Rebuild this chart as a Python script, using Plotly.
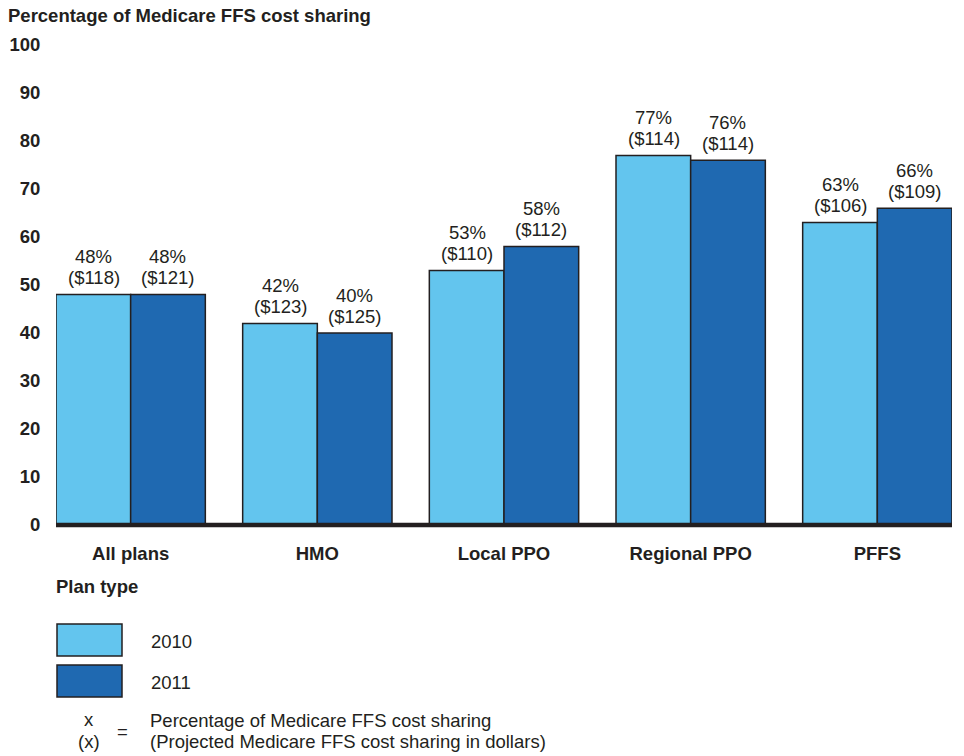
import plotly.graph_objects as go

categories = ["All plans", "HMO", "Local PPO", "Regional PPO", "PFFS"]
pct_2010 = [48, 42, 53, 77, 63]
pct_2011 = [48, 40, 58, 76, 66]
dollars_2010 = [118, 123, 110, 114, 106]
dollars_2011 = [121, 125, 112, 114, 109]
y_ticks = [0, 10, 20, 30, 40, 50, 60, 70, 80, 90, 100]

C2010 = "#63c5ee"
C2011 = "#1f69b1"
INK = "#231f20"
FONT = "Liberation Sans, Arial, sans-serif"
FS = 18.5

W, H = 964, 756
L, R, T, B = 56, 12, 45, 231
PW, PH = W - L - R, H - T - B

def px(x):
    return (x - L) / PW

def py(y):
    return (H - B - y) / PH

fig = go.Figure()
for name, vals, col in [("2010", pct_2010, C2010), ("2011", pct_2011, C2011)]:
    fig.add_trace(go.Bar(
        name=name, x=categories, y=vals,
        marker=dict(color=col, line=dict(color=INK, width=1.5)),
        showlegend=False, hoverinfo="x+y",
    ))

fig.update_layout(
    width=W, height=H, margin=dict(l=L, r=R, t=T, b=B, autoexpand=False),
    paper_bgcolor="white", plot_bgcolor="white",
    barmode="group", bargap=0.2, bargroupgap=0,
    font=dict(family=FONT, size=FS, color=INK),
    xaxis=dict(range=[-0.4, 4.4], showline=False, showgrid=False, zeroline=False,
               ticks="outside", ticklen=0, ticklabelstandoff=12,
               tickfont=dict(family=FONT, size=FS, color=INK, weight="bold")),
    yaxis=dict(range=[0, 100], tickvals=y_ticks, showline=False, showgrid=False, zeroline=False,
               ticks="outside", ticklen=0, ticklabelstandoff=11,
               tickfont=dict(family=FONT, size=FS, color=INK, weight="bold")),
)

# value labels above each bar (two lines: percentage and dollars)
for vals, dol, shift in [(pct_2010, dollars_2010, -37), (pct_2011, dollars_2011, 37)]:
    for c, v, d in zip(categories, vals, dol):
        for txt, ys in [(f"{v}%", 38), (f"(${d})", 17)]:
            fig.add_annotation(text=txt, x=c, y=v, xref="x", yref="y",
                               xshift=shift, yshift=ys, xanchor="center", yanchor="middle",
                               showarrow=False,
                               font=dict(family=FONT, size=FS, color=INK))

shapes = [
    dict(type="line", xref="paper", yref="paper", x0=0, x1=1, y0=0, y1=0,
         line=dict(color=INK, width=4.5), layer="above"),
    dict(type="rect", xref="paper", yref="paper", x0=px(57), x1=px(122), y0=py(624), y1=py(656),
         fillcolor=C2010, line=dict(color=INK, width=1.5)),
    dict(type="rect", xref="paper", yref="paper", x0=px(57), x1=px(122), y0=py(665), y1=py(697),
         fillcolor=C2011, line=dict(color=INK, width=1.5)),
]
fig.update_layout(shapes=shapes)

def ann(text, x, y, xanchor="left", bold=False, size=FS):
    fig.add_annotation(text=text, xref="paper", yref="paper", x=px(x), y=py(y),
                       xanchor=xanchor, yanchor="middle", showarrow=False,
                       font=dict(family=FONT, size=size, color=INK,
                                 weight="bold" if bold else "normal"),
                       align="left")

ann("Percentage of Medicare FFS cost sharing", 6, 15, bold=True)
ann("Plan type", 54, 586, bold=True)
ann("2010", 149, 641)
ann("2011", 149, 682)
ann("x", 89, 719, xanchor="center")
ann("(x)", 89, 741, xanchor="center")
ann("=", 122, 731, xanchor="center")
ann("Percentage of Medicare FFS cost sharing", 148, 720)
ann("(Projected Medicare FFS cost sharing in dollars)", 148, 741)

fig.write_html("out.html", config={"displayModeBar": False},
               post_script="document.body.style.margin='0';document.body.style.overflow='hidden';")
